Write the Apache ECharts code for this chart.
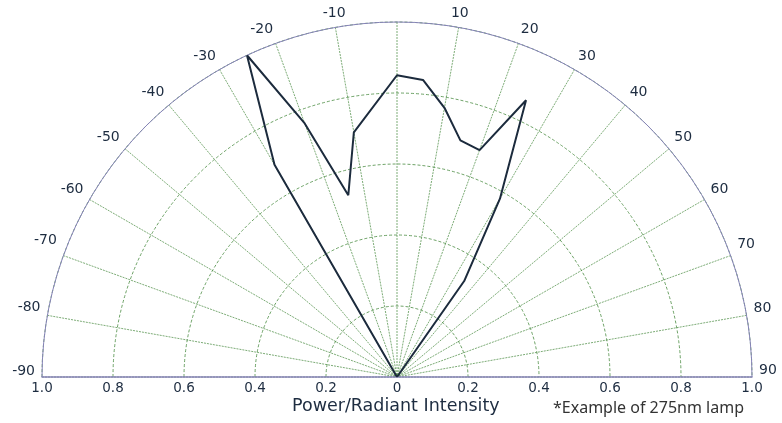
<!DOCTYPE html>
<html>
<head>
<meta charset="utf-8">
<script src="https://cdn.jsdelivr.net/npm/echarts@6/dist/echarts.min.js"></script>
<style>
  html, body { margin: 0; padding: 0; background: #fff; }
  #chart { width: 782px; height: 423px; }
</style>
</head>
<body>
<div id="chart"></div>
<script>
// angle (deg) of each measured point, and relative intensity
const angles = [-30, -30, -25, -20, -15, -10, 0, 5, 10, 15, 20, 25, 30, 35, 35];
const intensity = [0, 0.69, 1.0, 0.76, 0.53, 0.70, 0.85, 0.84, 0.77, 0.69, 0.68, 0.86, 0.58, 0.33, 0];
const angleTicks = [-90, 90, 10];   // min, max, step
const radiusTicks = [0, 1, 0.2];

const chart = echarts.init(document.getElementById('chart'));

const gridGreen = '#4a8c41';
const frameColor = '#8683b8';
const textColor = '#1d2c40';

// labels near the baseline sit a bit higher in the original
const liftOf = { '-90': 12, '90': 14, '-80': 14, '80': 12, '-70': 6, '70': 2 };

const option = {
  animation: false,
  polar: {
    center: [397, 377],
    radius: 355
  },
  angleAxis: {
    type: 'value',
    min: angleTicks[0],
    max: angleTicks[1],
    interval: angleTicks[2],
    startAngle: 180,
    endAngle: 0,
    clockwise: true,
    axisLine: { lineStyle: { color: frameColor, width: 1 } },
    axisTick: { show: false },
    axisLabel: {
      color: textColor,
      fontSize: 14,
      fontFamily: 'DejaVu Sans',
      margin: 7,
      formatter: v => {
        if (v === 0) return '';
        const k = String(v);
        return liftOf[k] ? '{l' + liftOf[k] + '|' + k + '}' : k;
      },
      rich: {
        l2: { padding: [0, 0, 2, 0], fontSize: 14, color: textColor, fontFamily: 'DejaVu Sans' },
        l6: { padding: [0, 0, 6, 0], fontSize: 14, color: textColor, fontFamily: 'DejaVu Sans' },
        l12: { padding: [0, 0, 12, 0], fontSize: 14, color: textColor, fontFamily: 'DejaVu Sans' },
        l14: { padding: [0, 0, 14, 0], fontSize: 14, color: textColor, fontFamily: 'DejaVu Sans' }
      }
    },
    splitLine: { show: true, lineStyle: { color: gridGreen, type: [2, 1], width: 0.8, opacity: 0.9 } }
  },
  radiusAxis: {
    type: 'value',
    min: radiusTicks[0],
    max: radiusTicks[1],
    interval: radiusTicks[2],
    axisLine: { show: false },
    axisTick: { show: false },
    axisLabel: { show: false },
    splitLine: { show: true, lineStyle: { color: gridGreen, type: [3, 2], width: 0.9, opacity: 0.9 } }
  },
  grid: { left: 42, width: 710, top: 20, height: 357 },
  xAxis: {
    type: 'value',
    min: -1,
    max: 1,
    interval: 0.2,
    axisLine: { onZero: false, lineStyle: { color: frameColor, width: 1.5 } },
    axisTick: { show: false },
    splitLine: { show: false },
    axisLabel: {
      color: textColor,
      fontSize: 13.5,
      fontFamily: 'DejaVu Sans',
      margin: 4,
      formatter: v => (Math.abs(v) < 1e-9 ? '0' : Math.abs(v).toFixed(1))
    }
  },
  yAxis: { type: 'value', show: false, min: 0, max: 1 },
  graphic: [
    {
      type: 'text', left: 292, top: 397,
      style: { text: 'Power/Radiant Intensity', fill: textColor, font: '17.5px "DejaVu Sans"' }
    },
    {
      type: 'text', left: 553, top: 400,
      style: { text: '*Example of 275nm lamp', fill: '#333', font: '16px "Noto Sans"' }
    }
  ],
  series: [
    {
      type: 'line',
      coordinateSystem: 'polar',
      data: intensity.map((r, i) => [r, angles[i]]),
      symbol: 'none',
      lineStyle: { color: '#1c2b3d', width: 2 }
    }
  ]
};

chart.setOption(option);
</script>
</body>
</html>
